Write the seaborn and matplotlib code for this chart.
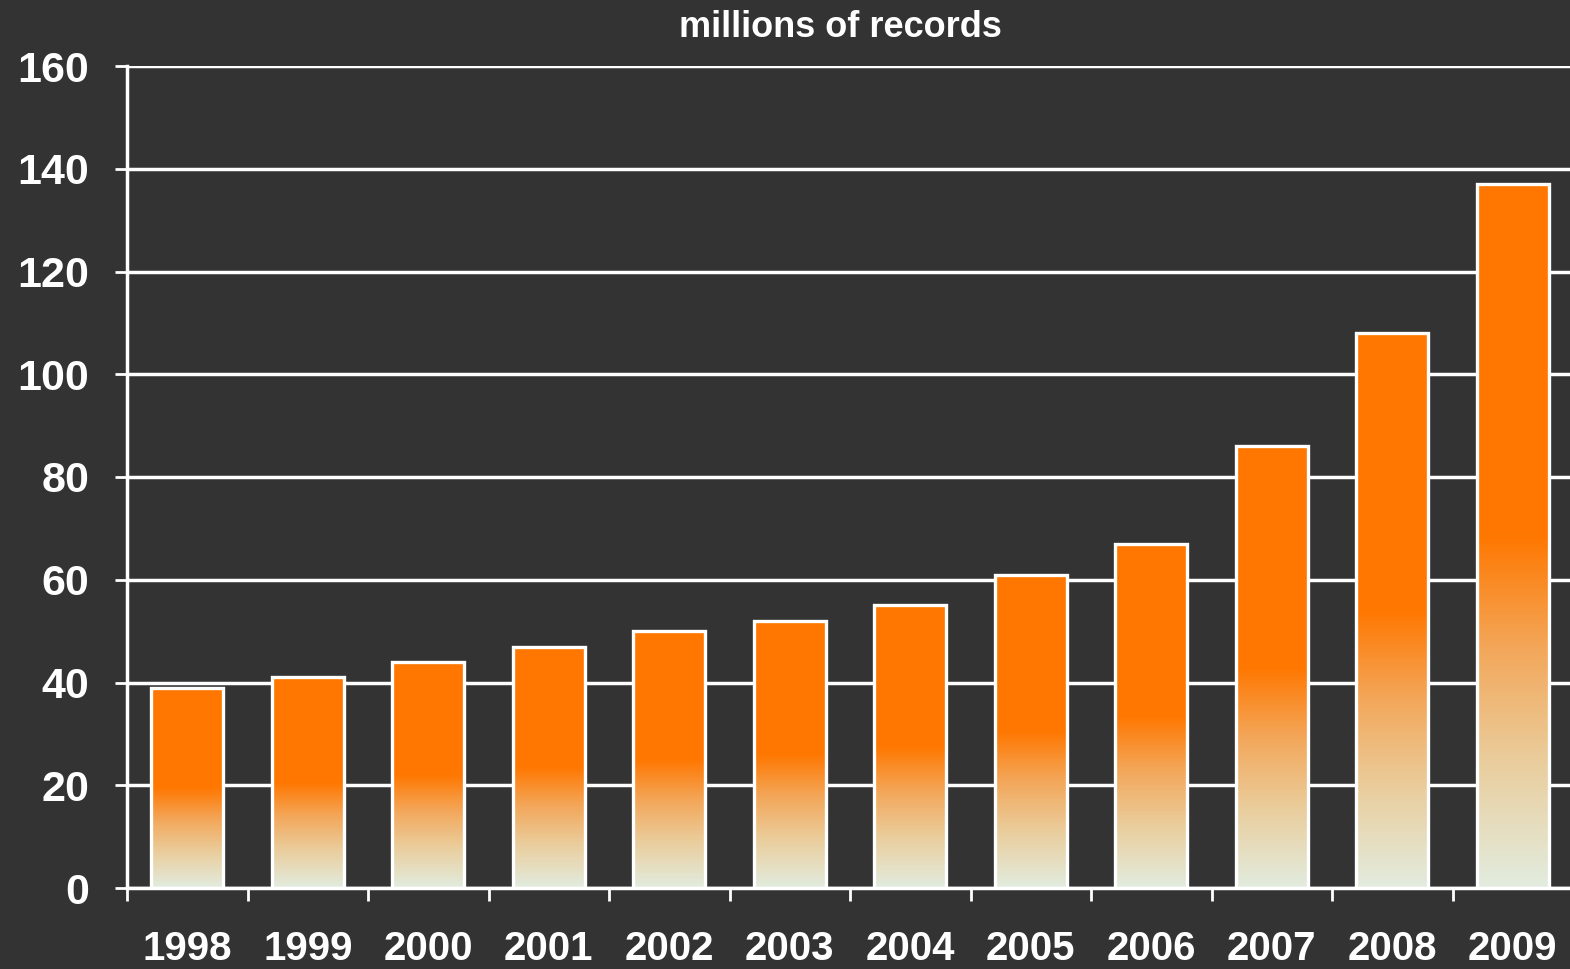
import matplotlib.pyplot as plt
import seaborn as sns
import numpy as np
import pandas as pd
from matplotlib.colors import LinearSegmentedColormap

# millions of records per year
years = ['1998', '1999', '2000', '2001', '2002', '2003',
         '2004', '2005', '2006', '2007', '2008', '2009']
records = [39, 41, 44, 47, 50, 52, 55, 61, 67, 86, 108, 137]
y_ticks = [0, 20, 40, 60, 80, 100, 120, 140, 160]

df = pd.DataFrame({'year': years, 'records': records})

bg = '#333333'
sns.set_style('ticks', {'axes.facecolor': bg, 'figure.facecolor': bg})
plt.rcParams['font.family'] = ['Liberation Sans', 'DejaVu Sans']

fig = plt.figure(figsize=(15.7, 9.69), dpi=100)
fig.patch.set_facecolor(bg)
ax = fig.add_axes([127 / 1570, 1 - 888 / 969, (1573 - 127) / 1570, (888 - 66) / 969])
ax.set_facecolor(bg)

sns.barplot(data=df, x='year', y='records', ax=ax, width=0.6,
            color='#FF7700', edgecolor='white', linewidth=2.4)

# orange fading to pale at the bottom half of each bar
cmap = LinearSegmentedColormap.from_list('fade', [
    (0.0, '#E2ECDF'), (0.18, '#EACD9C'), (0.34, '#F3A75A'),
    (0.5, '#FF7700'), (1.0, '#FF7700')])
grad = np.linspace(0, 1, 256).reshape(-1, 1)
for bar in ax.patches:
    x0 = bar.get_x()
    w = bar.get_width()
    h = bar.get_height()
    ax.imshow(grad, cmap=cmap, origin='lower', aspect='auto',
              extent=[x0, x0 + w, 0, h], zorder=2, interpolation='bicubic')
    bar.set_facecolor('none')
    bar.set_zorder(3)

ax.set_xlim(-0.5, 11.5)
ax.set_ylim(0, 160)
ax.set_yticks(y_ticks)
ax.set_xticks(np.arange(-0.5, 11.5, 1), minor=True)

ax.set_axisbelow(True)
ax.grid(axis='y', color='white', linewidth=2.5)
ax.grid(axis='x', visible=False)

for side in ['top', 'right']:
    ax.spines[side].set_visible(False)
for side in ['left', 'bottom']:
    ax.spines[side].set_color('white')
    ax.spines[side].set_linewidth(2.5)

ax.tick_params(axis='y', length=9, width=2, color='white', pad=18,
               labelsize=31, labelcolor='white')
ax.tick_params(axis='x', which='minor', length=9, width=2, color='white')
ax.tick_params(axis='x', which='major', length=0, pad=30,
               labelsize=29, labelcolor='white')
for lab in ax.get_xticklabels() + ax.get_yticklabels():
    lab.set_fontweight('bold')

ax.set_xlabel('')
ax.set_ylabel('')
fig.text(0.535, 0.972, 'millions of records', ha='center', va='center',
         fontsize=26, fontweight='bold', color='white')

fig.savefig('out.png', dpi=100, facecolor=bg)
